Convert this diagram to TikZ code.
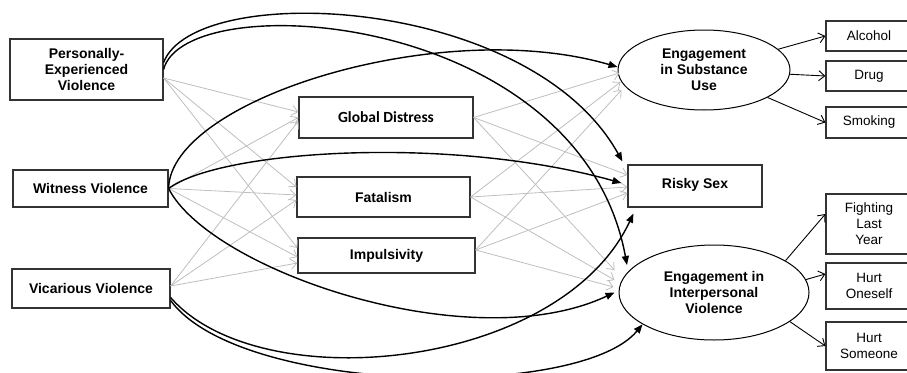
\documentclass[tikz,border=0pt]{standalone}
\usepackage{fontspec}
\setmainfont{Liberation Sans}
\newfontfamily\calibrifont{Carlito}
\usetikzlibrary{shapes.geometric,arrows.meta}
\definecolor{pathgrey}{HTML}{BEBEBE}
\definecolor{boxgrey}{HTML}{333333}
\tikzset{
    var-box/.style = {draw=boxgrey, fill=white, line width=1.2pt, rectangle, inner sep=2pt, align=center, font=\fontsize{14}{16}\selectfont\bfseries},
    latent-ellipse/.style = {draw=black, fill=white, line width=1pt, ellipse, inner sep=0pt, align=center, font=\fontsize{14}{16}\selectfont\bfseries},
    ind-box/.style = {draw=boxgrey, fill=white, line width=1.2pt, rectangle, inner sep=2pt, align=center, minimum width=86pt, font=\fontsize{13.5}{16}\selectfont},
    grey-path/.style = {draw=pathgrey, line width=0.8pt, -{Straight Barb[length=6pt,width=10pt]}},
    direct-path/.style = {draw=black, line width=1.4pt, -{Triangle[length=9pt,width=7pt]}},
    ind-path/.style = {draw=black, line width=0.9pt, -{Straight Barb[length=6pt,width=10pt]}},
}

\begin{document}
\begin{tikzpicture}[x=1pt, y=-1pt]
\useasboundingbox (0,0) rectangle (907,372);

% exposures
\node[var-box, minimum width=153pt, minimum height=61pt] (pev) at (86.5,69.5) {Personally-\\Experienced\\Violence};
\node[var-box, minimum width=155pt, minimum height=37pt] (wit) at (90.5,188.5) {Witness Violence};
\node[var-box, minimum width=158pt, minimum height=39pt] (vic) at (91,288.5) {Vicarious Violence};

% mediators
\node[var-box, minimum width=174pt, minimum height=41pt, font=\fontsize{15.5}{18}\selectfont\bfseries\calibrifont] (gd) at (386,117.5) {Global Distress};
\node[var-box, minimum width=173pt, minimum height=40pt] (fat) at (383.5,197) {Fatalism};
\node[var-box, minimum width=177pt, minimum height=35pt] (imp) at (386.5,255.5) {Impulsivity};

% outcomes
\node[latent-ellipse, minimum width=172pt, minimum height=80pt] (sub) at (704,70) {Engagement\\in Substance\\Use};
\node[var-box, minimum width=134pt, minimum height=42pt] (rs) at (695,186) {\raisebox{6pt}{Risky Sex}};
\node[latent-ellipse, minimum width=190pt, minimum height=95pt] (ipv) at (714,292.5) {Engagement in\\Interpersonal\\Violence};

% indicators
\node[ind-box, minimum height=30pt] (alc) at (869,36) {Alcohol};
\node[ind-box, minimum height=30pt] (drug) at (869,76) {Drug};
\node[ind-box, minimum height=31pt] (smk) at (869,122.5) {Smoking};
\node[ind-box, minimum height=60pt] (fight) at (869,224) {Fighting\\Last\\Year};
\node[ind-box, minimum height=46pt] (hself) at (869,286) {Hurt\\Oneself};
\node[ind-box, minimum height=48pt] (hother) at (869,346) {Hurt\\Someone};

% exposure -> mediator
\draw[grey-path] ([yshift=-8.5pt]pev.east) -- ([yshift=5.5pt]gd.west);
\draw[grey-path] ([yshift=-8.5pt]pev.east) -- ([yshift=10pt]fat.west);
\draw[grey-path] ([yshift=-8.5pt]pev.east) -- ([yshift=7.5pt]imp.west);
\draw[grey-path] (wit.east) -- (gd.west);
\draw[grey-path] (wit.east) -- ([yshift=2pt]fat.west);
\draw[grey-path] (wit.east) -- ([yshift=-1.5pt]imp.west);
\draw[grey-path] ([yshift=2.5pt]vic.east) -- ([yshift=-3.5pt]gd.west);
\draw[grey-path] ([yshift=2.5pt]vic.east) -- ([yshift=-3pt]fat.west);
\draw[grey-path] ([yshift=2.5pt]vic.east) -- ([yshift=-7.5pt]imp.west);

% mediator -> outcome
\draw[grey-path] (gd.east) -- ([xshift=2pt,yshift=-3pt]sub.west);
\draw[grey-path] (fat.east) -- ([xshift=3pt,yshift=-12pt]sub.west);
\draw[grey-path] ([yshift=5.5pt]imp.east) -- ([xshift=4pt,yshift=-20pt]sub.west);
\draw[grey-path] (gd.east) -- ([yshift=11pt]rs.west);
\draw[grey-path] (fat.east) -- ([yshift=-1pt]rs.west);
\draw[grey-path] ([yshift=5.5pt]imp.east) -- ([yshift=-7pt]rs.west);
\draw[grey-path] (gd.east) -- ([xshift=-4pt,yshift=22.5pt]ipv.west);
\draw[grey-path] (fat.east) -- ([xshift=-4pt,yshift=12.5pt]ipv.west);
\draw[grey-path] ([yshift=5.5pt]imp.east) -- ([xshift=-5pt,yshift=5.5pt]ipv.west);

% direct paths
\draw[direct-path] ([yshift=7pt]pev.east) .. controls (195,-20) and (530,-5) .. ([xshift=-5pt,yshift=3pt]rs.north west);
\draw[direct-path] (pev.east) .. controls (185,-15) and (580,10) .. ([xshift=-87pt,yshift=27.5pt]ipv.center);
\draw[direct-path] (wit.east) .. controls (170,100) and (440,15) .. ([yshift=3pt]sub.west);
\draw[direct-path] (wit.east) .. controls (220,150) and (450,135) .. ([xshift=-6pt,yshift=3pt]rs.west);
\draw[direct-path] (wit.east) .. controls (210,270) and (470,360) .. ([xshift=-4pt]ipv.west);
\draw[direct-path] ([yshift=-9pt]vic.east) .. controls (260,400) and (560,370) .. ([xshift=6pt,yshift=-6pt]rs.south west);
\draw[direct-path] ([yshift=-12pt]vic.east) .. controls (240,395) and (580,400) .. (ipv.204);

% measurement
\draw[ind-path] (sub) -- (alc.west);
\draw[ind-path] (sub) -- (drug.west);
\draw[ind-path] (sub) -- (smk.west);
\draw[ind-path] (ipv.24) -- ([yshift=10pt]fight.west);
\draw[ind-path] (ipv.8) -- ([yshift=12pt]hself.west);
\draw[ind-path] (ipv.339) -- (hother.west);
\end{tikzpicture}
\end{document}
